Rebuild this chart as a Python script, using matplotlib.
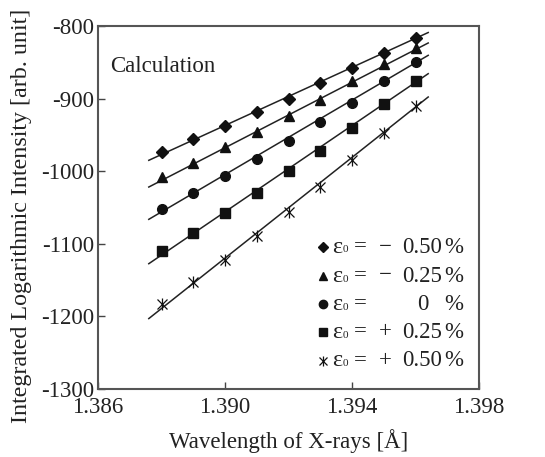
import matplotlib
matplotlib.use("Agg")
import matplotlib.pyplot as plt
import numpy as np

plt.rcParams['font.family'] = ['Liberation Serif', 'DejaVu Serif']
plt.rcParams['axes.unicode_minus'] = False

# ---- data ----
wavelength = [1.388, 1.389, 1.390, 1.391, 1.392, 1.393, 1.394, 1.395, 1.396]
strain_labels = ["− 0.50", "− 0.25", "0", "+ 0.25", "+ 0.50"]
int_m050 = [-973.6, -956.0, -938.0, -919.0, -900.0, -878.0, -858.0, -837.0, -816.0]
int_m025 = [-1008.0, -988.7, -966.7, -946.5, -924.0, -901.5, -876.2, -851.9, -830.3]
int_0 = [-1052.5, -1030.0, -1006.6, -983.2, -958.0, -931.8, -906.1, -876.2, -849.6]
int_p025 = [-1110.0, -1084.7, -1057.1, -1030.0, -1000.2, -971.7, -940.0, -907.4, -875.8]
int_p050 = [-1182.5, -1153.0, -1122.8, -1089.7, -1055.7, -1021.8, -985.0, -946.9, -910.7]

# fitted line endpoints
line_x = [1.3876, 1.3964]
line_m050 = [-985.0, -809.0]
line_m025 = [-1021.8, -823.4]
line_0 = [-1066.3, -840.4]
line_p025 = [-1127.4, -865.7]
line_p050 = [-1203.0, -897.8]

x_ticks = [1.386, 1.390, 1.394, 1.398]
y_ticks = [-1300, -1200, -1100, -1000, -900, -800]

W, H = 545, 457
fig = plt.figure(figsize=(W / 100, H / 100), dpi=100)
ax = fig.add_axes([98 / W, 1 - 389 / H, 381 / W, 363 / H])

markers = ['D', '^', 'o', 's', 'x']
msizes = [6, 7, 7, 7, 7]
series = [int_m050, int_m025, int_0, int_p025, int_p050]
lines = [line_m050, line_m025, line_0, line_p025, line_p050]
ink = '#111111'

for vals, lv, mk, ms in zip(series, lines, markers, msizes):
    ax.plot(line_x, lv, color='#222222', lw=1.1)
    ax.plot(wavelength, vals, ls='none', marker=mk, ms=ms, color=ink,
            markeredgecolor=ink, markeredgewidth=1.0 if mk != 'x' else 0.9)
    if mk == 'x':
        ax.plot(wavelength, vals, ls='none', marker='|', ms=ms + 1, color=ink,
                markeredgewidth=0.9)

ax.set_xlim(1.386, 1.398)
ax.set_ylim(-1300, -800)
ax.set_xticks(x_ticks)
ax.set_xticklabels([f"{v:.3f}" for v in x_ticks])
ax.set_yticks(y_ticks)
ax.set_yticklabels([str(v) for v in y_ticks])
ax.tick_params(direction='in', length=5, width=1, colors='#444444',
               labelcolor='#222222', labelsize=16.5)
ax.tick_params(axis='x', pad=6)
ax.tick_params(axis='y', pad=3)
for s in ax.spines.values():
    s.set_color('#555555')
    s.set_linewidth(1.5)

ax.set_xlabel("Wavelength of X-rays [Å]", fontsize=16.5, color='#222222', labelpad=8)
ax.set_ylabel("Integrated Logarithmic Intensity [arb. unit]", fontsize=17.3,
              color='#222222')
ax.yaxis.set_label_coords((32 - 98) / 381, (389 - 216) / 363)

fig.text(110 / W, 1 - 67 / H, "Calculation", fontsize=16.5, color='#222222',
         ha='left', va='center')

# custom legend
def fx(px):
    return px / W

def fy(py):
    return 1 - py / H

rows_y = [247, 276, 304, 332, 361]
for yy, mk, lab in zip(rows_y, markers, strain_labels):
    ms = 6 if mk != 'D' else 5
    fig.add_artist(plt.Line2D([fx(323)], [fy(yy)], ls='none', marker=mk, ms=ms,
                              color=ink, markeredgecolor=ink,
                              markeredgewidth=1.0 if mk != 'x' else 0.9,
                              transform=fig.transFigure))
    if mk == 'x':
        fig.add_artist(plt.Line2D([fx(323)], [fy(yy)], ls='none', marker='|', ms=ms + 1,
                                  color=ink, markeredgewidth=0.9,
                                  transform=fig.transFigure))
    fig.text(fx(332), fy(yy), "ε", fontsize=17.5, color='#222222', ha='left', va='center')
    fig.text(fx(343), fy(yy + 3), "0", fontsize=8, color='#222222', ha='left', va='center')
    fig.text(fx(354), fy(yy), "=", fontsize=16.5, color='#222222', ha='left', va='center')
    parts = lab.split(" ")
    if len(parts) == 2:
        fig.text(fx(379), fy(yy), parts[0], fontsize=16.5, color='#222222',
                 ha='left', va='center')
        fig.text(fx(442), fy(yy), parts[1], fontsize=16.5, color='#222222',
                 ha='right', va='center')
    else:
        fig.text(fx(428), fy(yy), parts[0], fontsize=16.5, color='#222222',
                 ha='right', va='center')
    fig.text(fx(444), fy(yy), "%", fontsize=16.5, color='#222222', ha='left', va='center')

fig.savefig("out.png", dpi=100)
